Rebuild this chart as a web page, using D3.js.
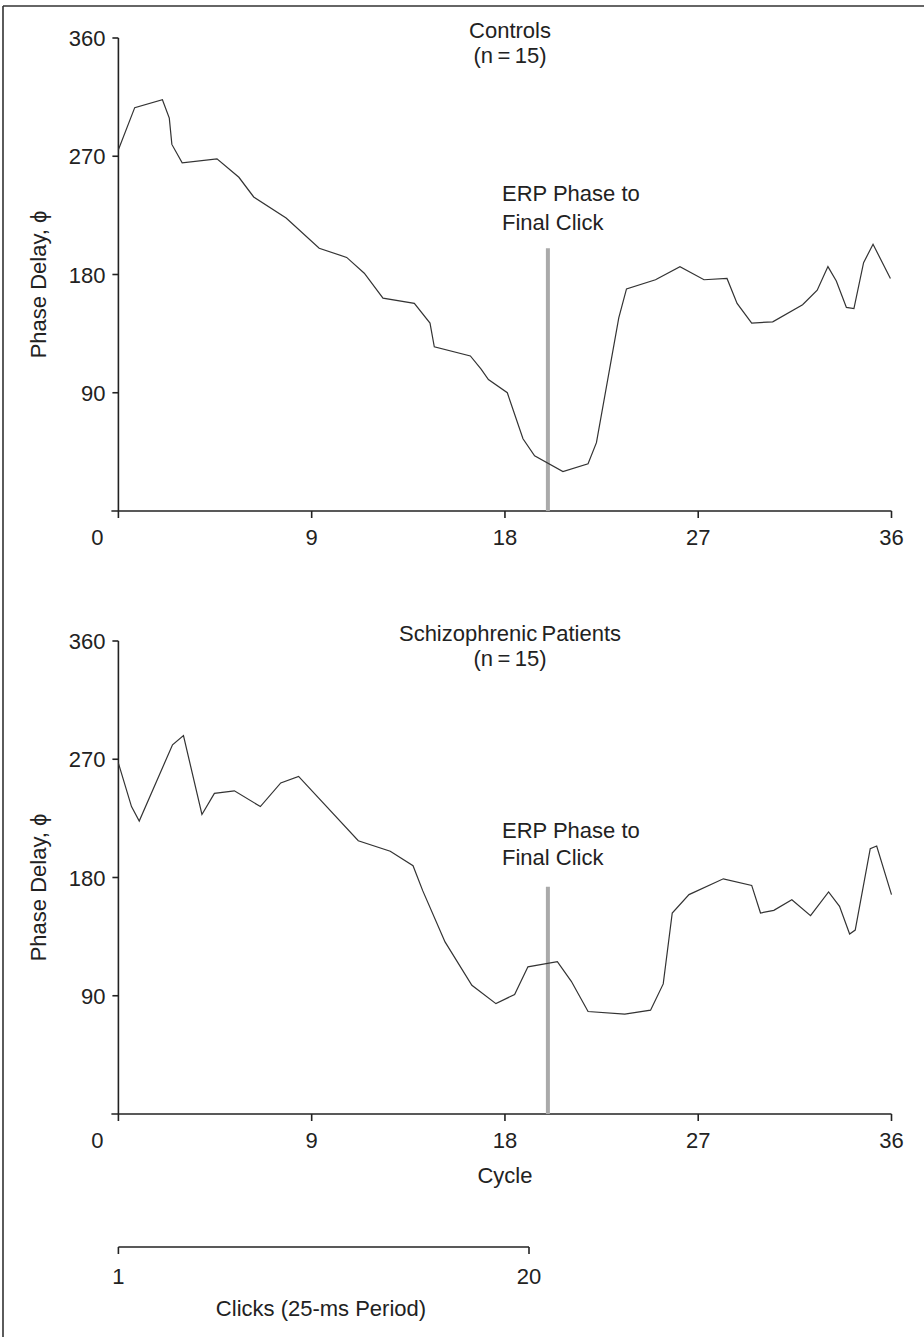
<!DOCTYPE html>
<html>
<head>
<meta charset="utf-8">
<script src="https://cdn.jsdelivr.net/npm/d3@7.9.0/dist/d3.min.js"></script>
<style>
  body { margin: 0; background: #fff; }
  svg text { font-family: "Liberation Sans", Arial, sans-serif; fill: #222; }
</style>
</head>
<body>
<svg id="chart" width="924" height="1337"></svg>
<script>
// cycle / phase pairs
const controlsCycle = [0, 0.76, 2.05, 2.37, 2.49, 2.97, 4.59, 5.61, 6.30, 7.81, 9.35, 10.63, 11.45, 12.32,
  13.78, 14.51, 14.71, 16.39, 16.89, 17.23, 18.11, 18.84, 19.38, 20.70, 21.87, 22.26, 23.30, 23.66,
  25.01, 26.15, 27.27, 28.34, 28.81, 29.49, 30.47, 31.86, 32.54, 33.04, 33.43, 33.90, 34.25, 34.70,
  35.14, 35.95];
const controlsPhase = [275, 307, 313, 299, 279, 265, 268, 254, 239, 223, 200, 193, 181, 162,
  158, 143, 125, 118, 108, 100, 90, 55, 42, 30, 36, 52, 147, 169,
  176, 186, 176, 177, 158, 143, 144, 157, 168, 186, 175, 155, 154, 189,
  203, 177];

const patientsCycle = [0, 0.61, 0.97, 2.52, 3.03, 3.89, 4.47, 5.40, 6.61, 7.56, 8.39, 11.17, 12.66,
  13.72, 14.17, 15.21, 16.46, 17.58, 18.45, 19.07, 20.44, 21.09, 21.87, 23.58, 24.78, 25.37, 25.79,
  26.57, 28.17, 29.49, 29.90, 30.52, 31.36, 32.23, 33.07, 33.58, 34.05, 34.31, 35.01, 35.31, 36];
const patientsPhase = [267, 234, 223, 281, 288, 228, 244, 246, 234, 252, 257, 208, 200,
  189, 170, 131, 98, 84, 91, 112, 116, 101, 78, 76, 79, 99, 153,
  167, 179, 174, 153, 155, 163, 151, 169, 158, 137, 140, 202, 204, 167];

const cycleTicks = [0, 9, 18, 27, 36];
const phaseTicks = [90, 180, 270, 360];
const finalClickCycle = 20;
const finalClickTop = [200, 173];
const clickTicks = [1, 20];
const titles = [["Controls", "(n\u2009=\u200915)"], ["Schizophrenic\u2009Patients", "(n\u2009=\u200915)"]];
const series = [
  controlsCycle.map((c, i) => ({ c, p: controlsPhase[i] })),
  patientsCycle.map((c, i) => ({ c, p: patientsPhase[i] }))
];

const svg = d3.select('#chart');
const ink = '#222';
const fs = 22;

// frame (top and left only)
svg.append('line').attr('x1', 3).attr('x2', 924).attr('y1', 6).attr('y2', 6)
  .attr('stroke', '#333').attr('stroke-width', 1.6);
svg.append('line').attr('x1', 3).attr('x2', 3).attr('y1', 6).attr('y2', 1337)
  .attr('stroke', '#333').attr('stroke-width', 1.6);

const x = d3.scaleLinear().domain([0, 36]).range([118.4, 891.5]);
const panelBottoms = [511, 1114];

panelBottoms.forEach((bottom, k) => {
  const y = d3.scaleLinear().domain([0, 360]).range([bottom, bottom - 473]);
  const g = svg.append('g');

  // y axis
  g.append('line').attr('x1', x(0)).attr('x2', x(0)).attr('y1', y(0)).attr('y2', y(360))
    .attr('stroke', ink).attr('stroke-width', 1.6);
  phaseTicks.forEach(t => {
    g.append('line').attr('x1', x(0) - 6).attr('x2', x(0)).attr('y1', y(t)).attr('y2', y(t))
      .attr('stroke', ink).attr('stroke-width', 1.6);
    g.append('text').attr('x', x(0) - 13).attr('y', y(t) + 8)
      .attr('text-anchor', 'end').attr('font-size', fs).text(t);
  });
  g.append('text')
    .attr('transform', `translate(46,${y(180) + 10}) rotate(-90)`)
    .attr('text-anchor', 'middle').attr('font-size', fs).text('Phase Delay, \u03d5');

  // x axis
  g.append('line').attr('x1', x(0) - 7).attr('x2', x(36)).attr('y1', y(0)).attr('y2', y(0))
    .attr('stroke', ink).attr('stroke-width', 1.6);
  cycleTicks.forEach(t => {
    g.append('line').attr('x1', x(t)).attr('x2', x(t)).attr('y1', y(0)).attr('y2', y(0) + 7)
      .attr('stroke', ink).attr('stroke-width', 1.6);
    g.append('text').attr('x', t === 0 ? x(t) - 21 : x(t)).attr('y', y(0) + 34)
      .attr('text-anchor', 'middle').attr('font-size', fs).text(t);
  });

  // titles
  g.append('text').attr('x', 510).attr('y', y(360) + 0)
    .attr('text-anchor', 'middle').attr('font-size', fs).text(titles[k][0]);
  g.append('text').attr('x', 510).attr('y', y(360) + 25)
    .attr('text-anchor', 'middle').attr('font-size', fs).text(titles[k][1]);

  // final click marker
  g.append('line').attr('x1', x(finalClickCycle)).attr('x2', x(finalClickCycle))
    .attr('y1', y(0)).attr('y2', y(finalClickTop[k]))
    .attr('stroke', '#aaa').attr('stroke-width', 4);
  const lab = g.append('text').attr('x', 502).attr('y', y(finalClickTop[k]) - (k ? 49 : 47))
    .attr('font-size', fs);
  lab.append('tspan').attr('x', 502).text('ERP Phase to');
  lab.append('tspan').attr('x', 502).attr('dy', k ? 27 : 29).text('Final Click');

  // data line
  g.append('path').datum(series[k])
    .attr('d', d3.line().x(d => x(d.c)).y(d => y(d.p)))
    .attr('fill', 'none').attr('stroke', '#333').attr('stroke-width', 1.2);
});

svg.append('text').attr('x', x(18)).attr('y', 1183)
  .attr('text-anchor', 'middle').attr('font-size', fs).text('Cycle');

// clicks scale
const xc = d3.scaleLinear().domain([1, 20]).range([118.4, 529]);
svg.append('line').attr('x1', xc(1)).attr('x2', xc(20)).attr('y1', 1247).attr('y2', 1247)
  .attr('stroke', ink).attr('stroke-width', 1.6);
clickTicks.forEach(t => {
  svg.append('line').attr('x1', xc(t)).attr('x2', xc(t)).attr('y1', 1247).attr('y2', 1254)
    .attr('stroke', ink).attr('stroke-width', 1.6);
  svg.append('text').attr('x', xc(t)).attr('y', 1284)
    .attr('text-anchor', 'middle').attr('font-size', fs).text(t);
});
svg.append('text').attr('x', 321).attr('y', 1316)
  .attr('text-anchor', 'middle').attr('font-size', fs).text('Clicks (25-ms Period)');
</script>
</body>
</html>
